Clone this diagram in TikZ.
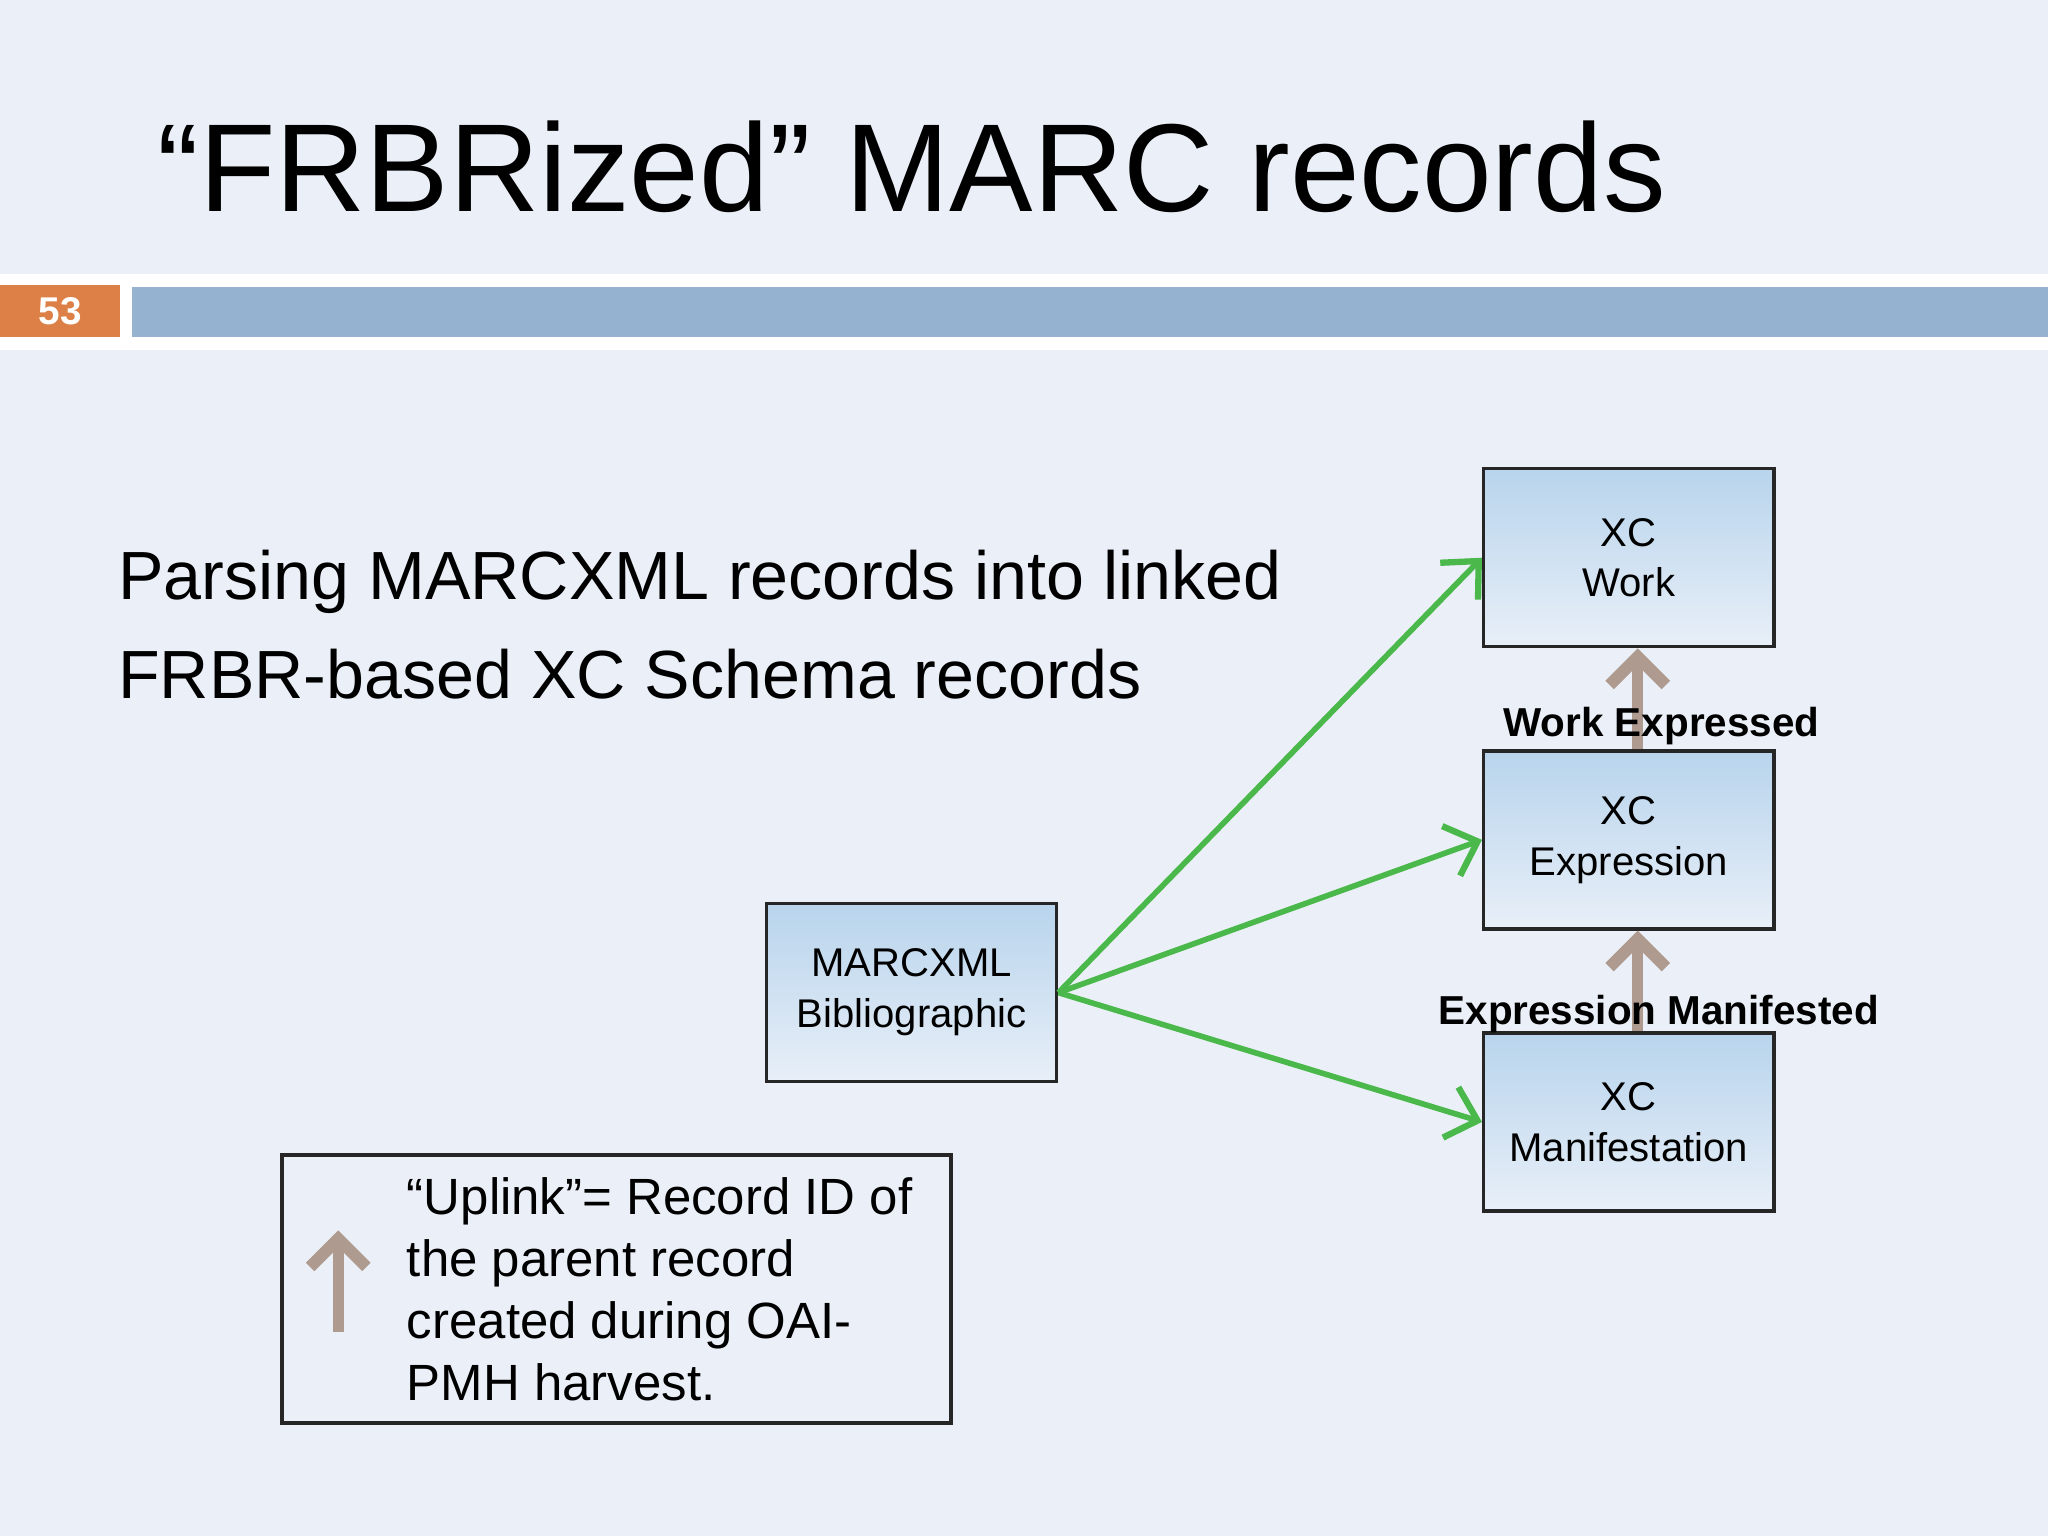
\documentclass[tikz,border=0pt]{standalone}
\usepackage{fontspec}
\setmainfont{Liberation Sans}
\usetikzlibrary{arrows.meta}
\definecolor{slidebg}{HTML}{EBF0F8}
\definecolor{barblue}{HTML}{95B3D0}
\definecolor{numorange}{HTML}{DD8047}
\definecolor{linkgreen}{HTML}{4AB84A}
\definecolor{uplink}{HTML}{AE9A8F}
\definecolor{boxtop}{HTML}{B8D4EC}
\definecolor{boxbot}{HTML}{E8EFF8}
\tikzset{
  rec/.style={draw=black!85, line width=1pt, top color=boxtop, bottom color=boxbot,
    minimum width=2.9cm, minimum height=1.78cm, align=center,
    font=\fontsize{11.4}{14.5}\selectfont},
  feed/.style={draw=linkgreen, line width=1.6pt, -{Straight Barb[length=8pt,width=15pt,line width=1.8pt]}},
  up/.style={draw=uplink, line width=3.2pt, -{Straight Barb[length=8pt,width=16pt,line width=3.4pt]}},
  lbl/.style={font=\bfseries\fontsize{11.5}{14}\selectfont}
}
\begin{document}
\begin{tikzpicture}[x=0.01306cm, y=-0.01306cm]
\useasboundingbox (0,0) rectangle (1568,1176);
\fill[slidebg] (0,0) rectangle (1568,1176);
% header
\node (title) at (698,128) {\fontsize{35.6}{42}\selectfont “FRBRized” MARC records};
\fill[white] (0,210) rectangle (1568,268);
\fill[numorange] (0,218) rectangle (92,258);
\fill[barblue] (101,220) rectangle (1568,258);
\node[text=white, font=\bfseries\fontsize{11}{13}\selectfont] (num) at (46,238) {53};
\node[anchor=north west, align=left, font=\fontsize{19.4}{28}\selectfont, inner sep=0pt] (intro) at (90,421)
  {Parsing MARCXML records into linked\\FRBR-based XC Schema records};
% records
\node[rec] (marc) at (698,760) {MARCXML\\Bibliographic};
\node[rec] (work) at (1247,427) {XC\\Work};
\node[rec] (expr) at (1247,643) {XC\\Expression};
\node[rec] (mani) at (1247,859) {XC\\Manifestation};
\draw[feed] (marc.east) -- (work.west);
\draw[feed] (marc.east) -- (expr.west);
\draw[feed] (marc.east) -- (mani.west);
\draw[up] ([xshift=0.09cm]expr.north) -- ([xshift=0.09cm]work.south);
\draw[up] ([xshift=0.09cm]mani.north) -- ([xshift=0.09cm]expr.south);
\node[lbl] (we) at (1272,556) {Work Expressed};
\node[lbl] (em) at (1270,776) {Expression Manifested};
% legend
\node[draw=black!85, line width=1pt, minimum width=6.69cm, minimum height=2.68cm] (key) at (472,987) {};
\coordinate (keytail) at (259,1020);
\coordinate (keyhead) at (259,942);
\draw[up] (keytail) -- (keyhead);
\node[anchor=north west, align=left, inner sep=0pt, font=\fontsize{14.5}{17.6}\selectfont] (keytext) at (311,901)
  {“Uplink”= Record ID of\\the parent record\\created during OAI-\\PMH harvest.};
\end{tikzpicture}
\end{document}
